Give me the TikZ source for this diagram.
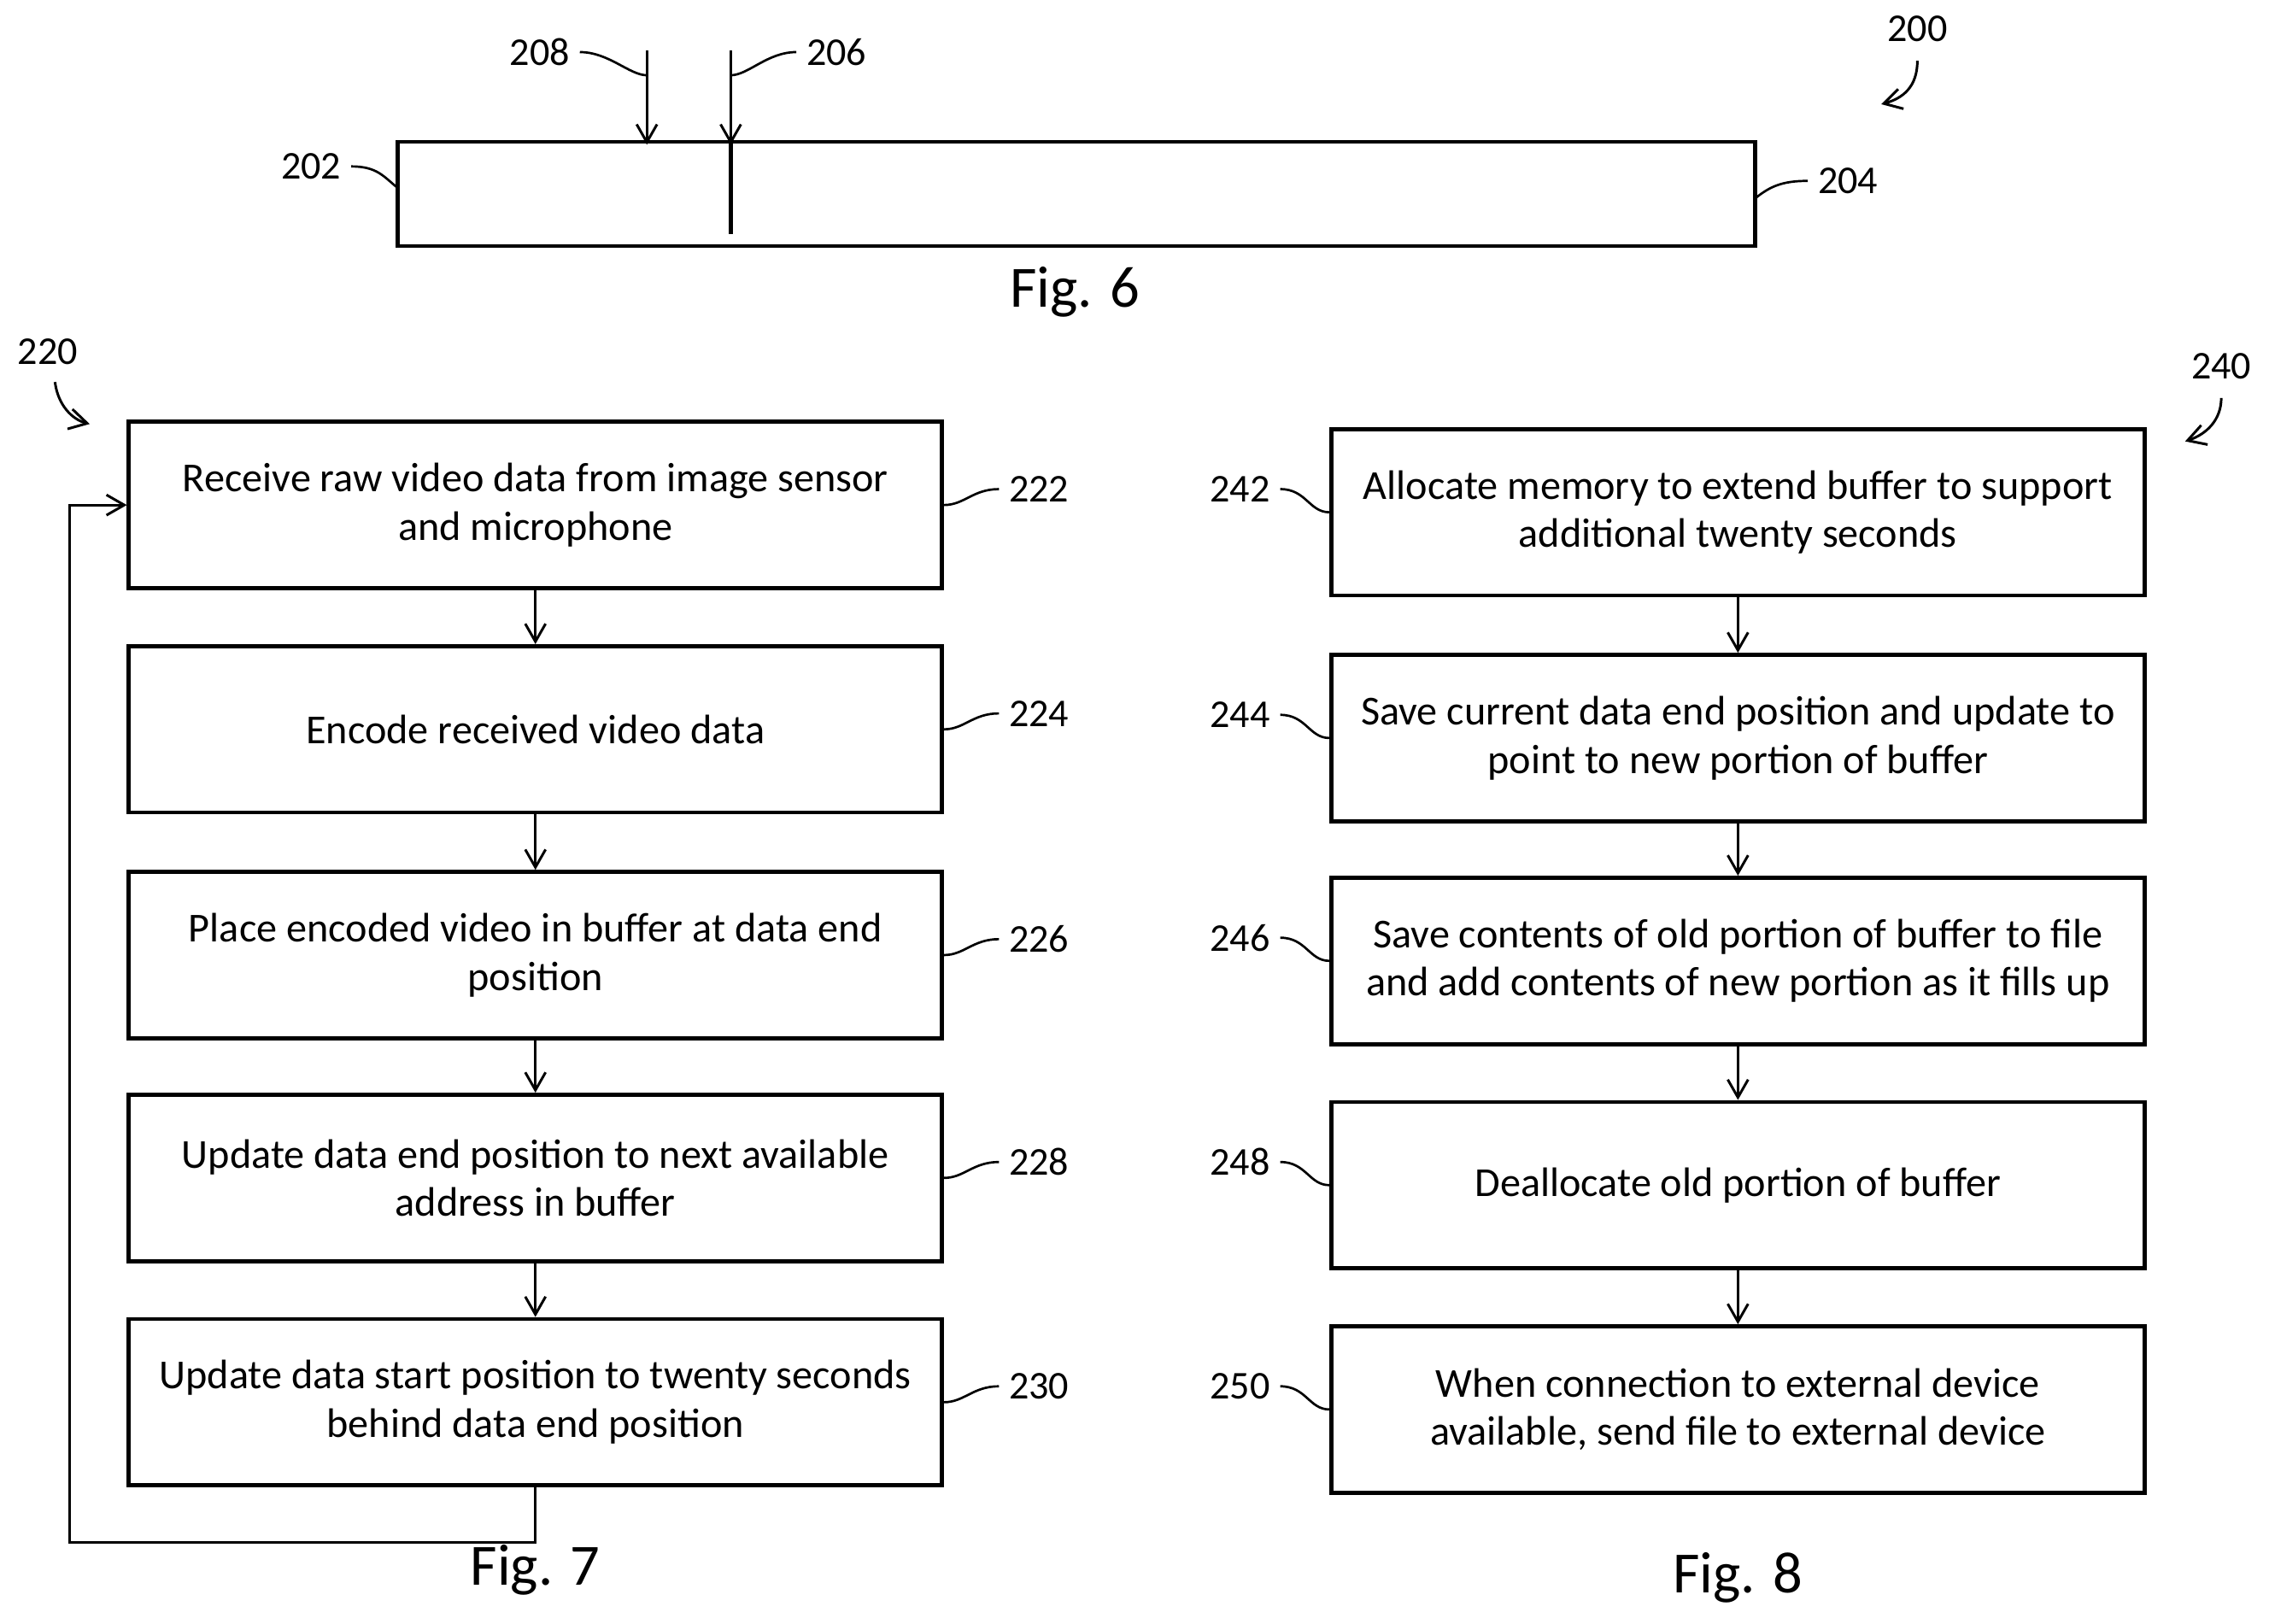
\documentclass[tikz,border=0pt]{standalone}
\usepackage{fontspec}
\setmainfont{Carlito}
\usetikzlibrary{arrows.meta,calc}
\begin{document}
\begin{tikzpicture}[x=0.02cm,y=-0.02cm,line width=1.3pt,
  stepbox/.style={draw,line width=1.6pt,minimum width=11.24cm,minimum height=2.3cm,align=center,font=\fontsize{16.2}{19}\selectfont},
  ref/.style={font=\fontsize{15.5}{19}\selectfont},
  fig/.style={font=\fontsize{23}{27}\selectfont},
  flow/.style={-{Straight Barb[length=7pt,width=8pt]},line width=1pt},
  squig/.style={line width=0.9pt}]
\useasboundingbox (0,0) rectangle (1568,1122);

% Fig. 6
\draw[line width=1.6pt] (275,98) rectangle (1213,170);
\draw[line width=1.6pt] (505,98) -- (505,162);
\coordinate (t208) at (447,35);
\coordinate (h208) at (447,100);
\coordinate (t206) at (505,35);
\coordinate (h206) at (505,100);
\draw[flow] (t208) -- (h208);
\draw[flow] (t206) -- (h206);
\node[ref] (l208) at (373,36) {208};
\node[ref] (l206) at (578,36) {206};
\node[ref] (l202) at (215,115) {202};
\node[ref] (l204) at (1277,125) {204};
\node[ref] (l200) at (1325,20) {200};
\draw[squig] (l208.east) .. controls +(20,0) and +(-12,0) .. (447,52);
\draw[squig] (l206.west) .. controls +(-20,0) and +(12,0) .. (505,52);
\draw[squig] (l202.east) .. controls +(18,0) and +(-10,-8) .. (275,130);
\draw[squig] (l204.west) .. controls +(-18,0) and +(10,-8) .. (1213,137);
\draw[flow] (1325,42) .. controls (1325,60) and (1315,68) .. (1300,72);
\node[fig] (f6) at (743,202) {Fig. 6};

% Fig. 7
\foreach \n/\y/\t in {222/349/{Receive raw video data from image sensor\\and microphone},
  224/504/{Encode received video data},
  226/660/{Place encoded video in buffer at data end\\position},
  228/814/{Update data end position to next available\\address in buffer},
  230/969/{Update data start position to twenty seconds\\behind data end position}}{
  \node[stepbox] (b\n) at (370,\y) {\t};
  \node[ref] (l\n) at (718,\y-11) {\n};
  \draw[squig] (l\n.west) .. controls +(-18,0) and +(14,0) .. (b\n.east);
}
\foreach \a/\b in {222/224,224/226,226/228,228/230}
  \draw[flow] (b\a) -- (b\b);
\coordinate (c7a) at (370,1066);
\coordinate (c7b) at (48,1066);
\coordinate (c7c) at (48,349);
\draw[flow] (b230.south) -- (c7a) -- (c7b) -- (c7c) -- (b222.west);
\node[ref] (l220) at (33,243) {220};
\draw[flow] (38,264) .. controls (40,280) and (50,290) .. (62,293);
\node[fig] (f7) at (370,1085) {Fig. 7};

% Fig. 8
\foreach \n/\y/\t in {242/354/{Allocate memory to extend buffer to support\\additional twenty seconds},
  244/510/{Save current data end position and update to\\point to new portion of buffer},
  246/664/{Save contents of old portion of buffer to file\\and add contents of new portion as it fills up},
  248/819/{Deallocate old portion of buffer},
  250/974/{When connection to external device\\available, send file to external device}}{
  \node[stepbox] (b\n) at (1201,\y) {\t};
  \node[ref] (l\n) at (857,\y-16) {\n};
  \draw[squig] (l\n.east) .. controls +(18,0) and +(-14,0) .. (b\n.west);
}
\foreach \a/\b in {242/244,244/246,246/248,248/250}
  \draw[flow] (b\a) -- (b\b);
\node[ref] (l240) at (1535,253) {240};
\draw[flow] (1535,275) .. controls (1535,290) and (1525,300) .. (1510,305);
\node[fig] (f8) at (1201,1090) {Fig. 8};
\end{tikzpicture}
\end{document}
